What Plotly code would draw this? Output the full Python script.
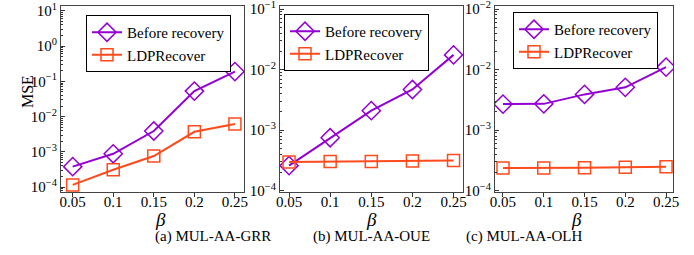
import plotly.graph_objects as go

beta = [0.05, 0.1, 0.15, 0.2, 0.25]
beta_labels = ["0.05", "0.1", "0.15", "0.2", "0.25"]

grr_before = [3.8e-4, 8.8e-4, 3.9e-3, 5.3e-2, 1.9e-1]
grr_recover = [1.15e-4, 3.1e-4, 7.6e-4, 3.7e-3, 6.2e-3]

oue_before = [2.6e-4, 7.5e-4, 2.1e-3, 4.7e-3, 1.75e-2]
oue_recover = [3.0e-4, 3.05e-4, 3.05e-4, 3.1e-4, 3.15e-4]

olh_before = [2.7e-3, 2.72e-3, 3.9e-3, 5.1e-3, 1.1e-2]
olh_recover = [2.37e-4, 2.37e-4, 2.4e-4, 2.45e-4, 2.5e-4]

titles = ["(a) MUL-AA-GRR", "(b) MUL-AA-OUE", "(c) MUL-AA-OLH"]
series_names = ["Before recovery", "LDPRecover"]

# y tick labels per panel
yt_a_vals = [1e-4, 1e-3, 1e-2, 1e-1, 1e0, 1e1]
yt_a_text = ["10<sup>−4</sup>", "10<sup>−3</sup>", "10<sup>−2</sup>", "10<sup>−1</sup>", "10<sup>0</sup>", "10<sup>1</sup>"]
yt_b_vals = [1e-4, 1e-3, 1e-2, 1e-1]
yt_b_text = ["10<sup>−4</sup>", "10<sup>−3</sup>", "10<sup>−2</sup>", "10<sup>−1</sup>"]
yt_c_vals = [1e-4, 1e-3, 1e-2, 1e-1]
yt_c_text = ["10<sup>−4</sup>", "10<sup>−3</sup>", "10<sup>−2</sup>", "10<sup>−2</sup>"]

PURPLE = "#9400D3"
ORANGE = "#FF4A1C"
FONT = "Liberation Serif"
W, H = 694, 255

panels = [
    dict(before=grr_before, rec=grr_recover, px=(61, 244), xr=[0.0356, 0.2612], yr=[-4.14, 1.14],
         tv=yt_a_vals, tt=yt_a_text, leg=(86, 15)),
    dict(before=oue_before, rec=oue_recover, px=(280, 463), xr=[0.039, 0.2615], yr=[-4.02, -0.95],
         tv=yt_b_vals, tt=yt_b_text, leg=(284, 14)),
    dict(before=olh_before, rec=olh_recover, px=(495, 673), xr=[0.0402, 0.2585], yr=[-4.02, -0.95],
         tv=yt_c_vals, tt=yt_c_text, leg=(513, 12)),
]

fig = go.Figure()
layout = dict(width=W, height=H, margin=dict(l=0, r=0, t=0, b=0, autoexpand=False),
              paper_bgcolor="white", plot_bgcolor="white",
              font=dict(family=FONT, size=15, color="black"), annotations=[])

ytop, ybot = 6, 192
for i, p in enumerate(panels):
    n = "" if i == 0 else str(i + 1)
    legname = "legend" + n
    fig.add_trace(go.Scatter(x=beta, y=p["before"], mode="lines+markers", name=series_names[0],
                             xaxis="x" + n, yaxis="y" + n, legend=legname,
                             line=dict(color=PURPLE, width=2),
                             marker=dict(symbol="diamond-open", size=14, color=PURPLE, line=dict(width=1.5))))
    fig.add_trace(go.Scatter(x=beta, y=p["rec"], mode="lines+markers", name=series_names[1],
                             xaxis="x" + n, yaxis="y" + n, legend=legname,
                             line=dict(color=ORANGE, width=2),
                             marker=dict(symbol="square-open", size=12, color=ORANGE, line=dict(width=1.5))))
    minor_vals = []
    lo = int(p["yr"][0]) - 1
    hi = int(p["yr"][1]) + 1
    for e in range(lo, hi + 1):
        for m in range(2, 10):
            minor_vals.append(m * 10.0 ** e)
    layout["xaxis" + n] = dict(domain=[p["px"][0] / W, p["px"][1] / W], range=p["xr"],
                               anchor="y" + n, tickvals=beta, ticktext=beta_labels, automargin=False,
                               ticks="outside", ticklen=4, tickcolor="#333", showgrid=False,
                               ticklabelstandoff=-8, ticklabeloverflow="allow",
                               showline=True, linecolor="#444", linewidth=1, mirror=True,
                               zeroline=False, tickfont=dict(size=15, family=FONT))
    layout["yaxis" + n] = dict(domain=[1 - ybot / H, 1 - ytop / H], type="log", range=p["yr"],
                               anchor="x" + n, tickvals=p["tv"], ticktext=p["tt"], automargin=False,
                               ticks="inside", ticklen=4, tickcolor="#333", showgrid=False,
                               ticklabeloverflow="allow",
                               showline=True, linecolor="#444", linewidth=1, mirror=True,
                               zeroline=False, tickfont=dict(size=15, family=FONT),
                               minor=dict(tickvals=minor_vals, ticks="inside", ticklen=2, tickcolor="#333"))
    layout[legname] = dict(x=p["leg"][0] / W, y=1 - p["leg"][1] / H, xanchor="left", yanchor="top",
                           bgcolor="white", bordercolor="black", borderwidth=1, entrywidth=112,
                           font=dict(size=15, family=FONT), tracegroupgap=0)
    cx = (p["px"][0] + p["px"][1]) / 2 / W
    layout["annotations"].append(dict(text="<i>β</i>", x=cx, y=1 - 219 / H, xref="paper", yref="paper",
                                      yanchor="middle", showarrow=False, font=dict(size=19, family=FONT)))
    layout["annotations"].append(dict(text=titles[i], x=cx, y=1 - 236 / H, xref="paper", yref="paper",
                                      yanchor="middle", showarrow=False, font=dict(size=15, family=FONT)))

layout["annotations"].append(dict(text="MSE", x=27 / W, y=1 - 92 / H, xref="paper", yref="paper",
                                  xanchor="center", yanchor="middle",
                                  showarrow=False, textangle=-90, font=dict(size=16, family=FONT)))
fig.update_layout(**layout)
fig.write_html("out.html", post_script="document.body.style.margin='0';",
               config={"displayModeBar": False})
